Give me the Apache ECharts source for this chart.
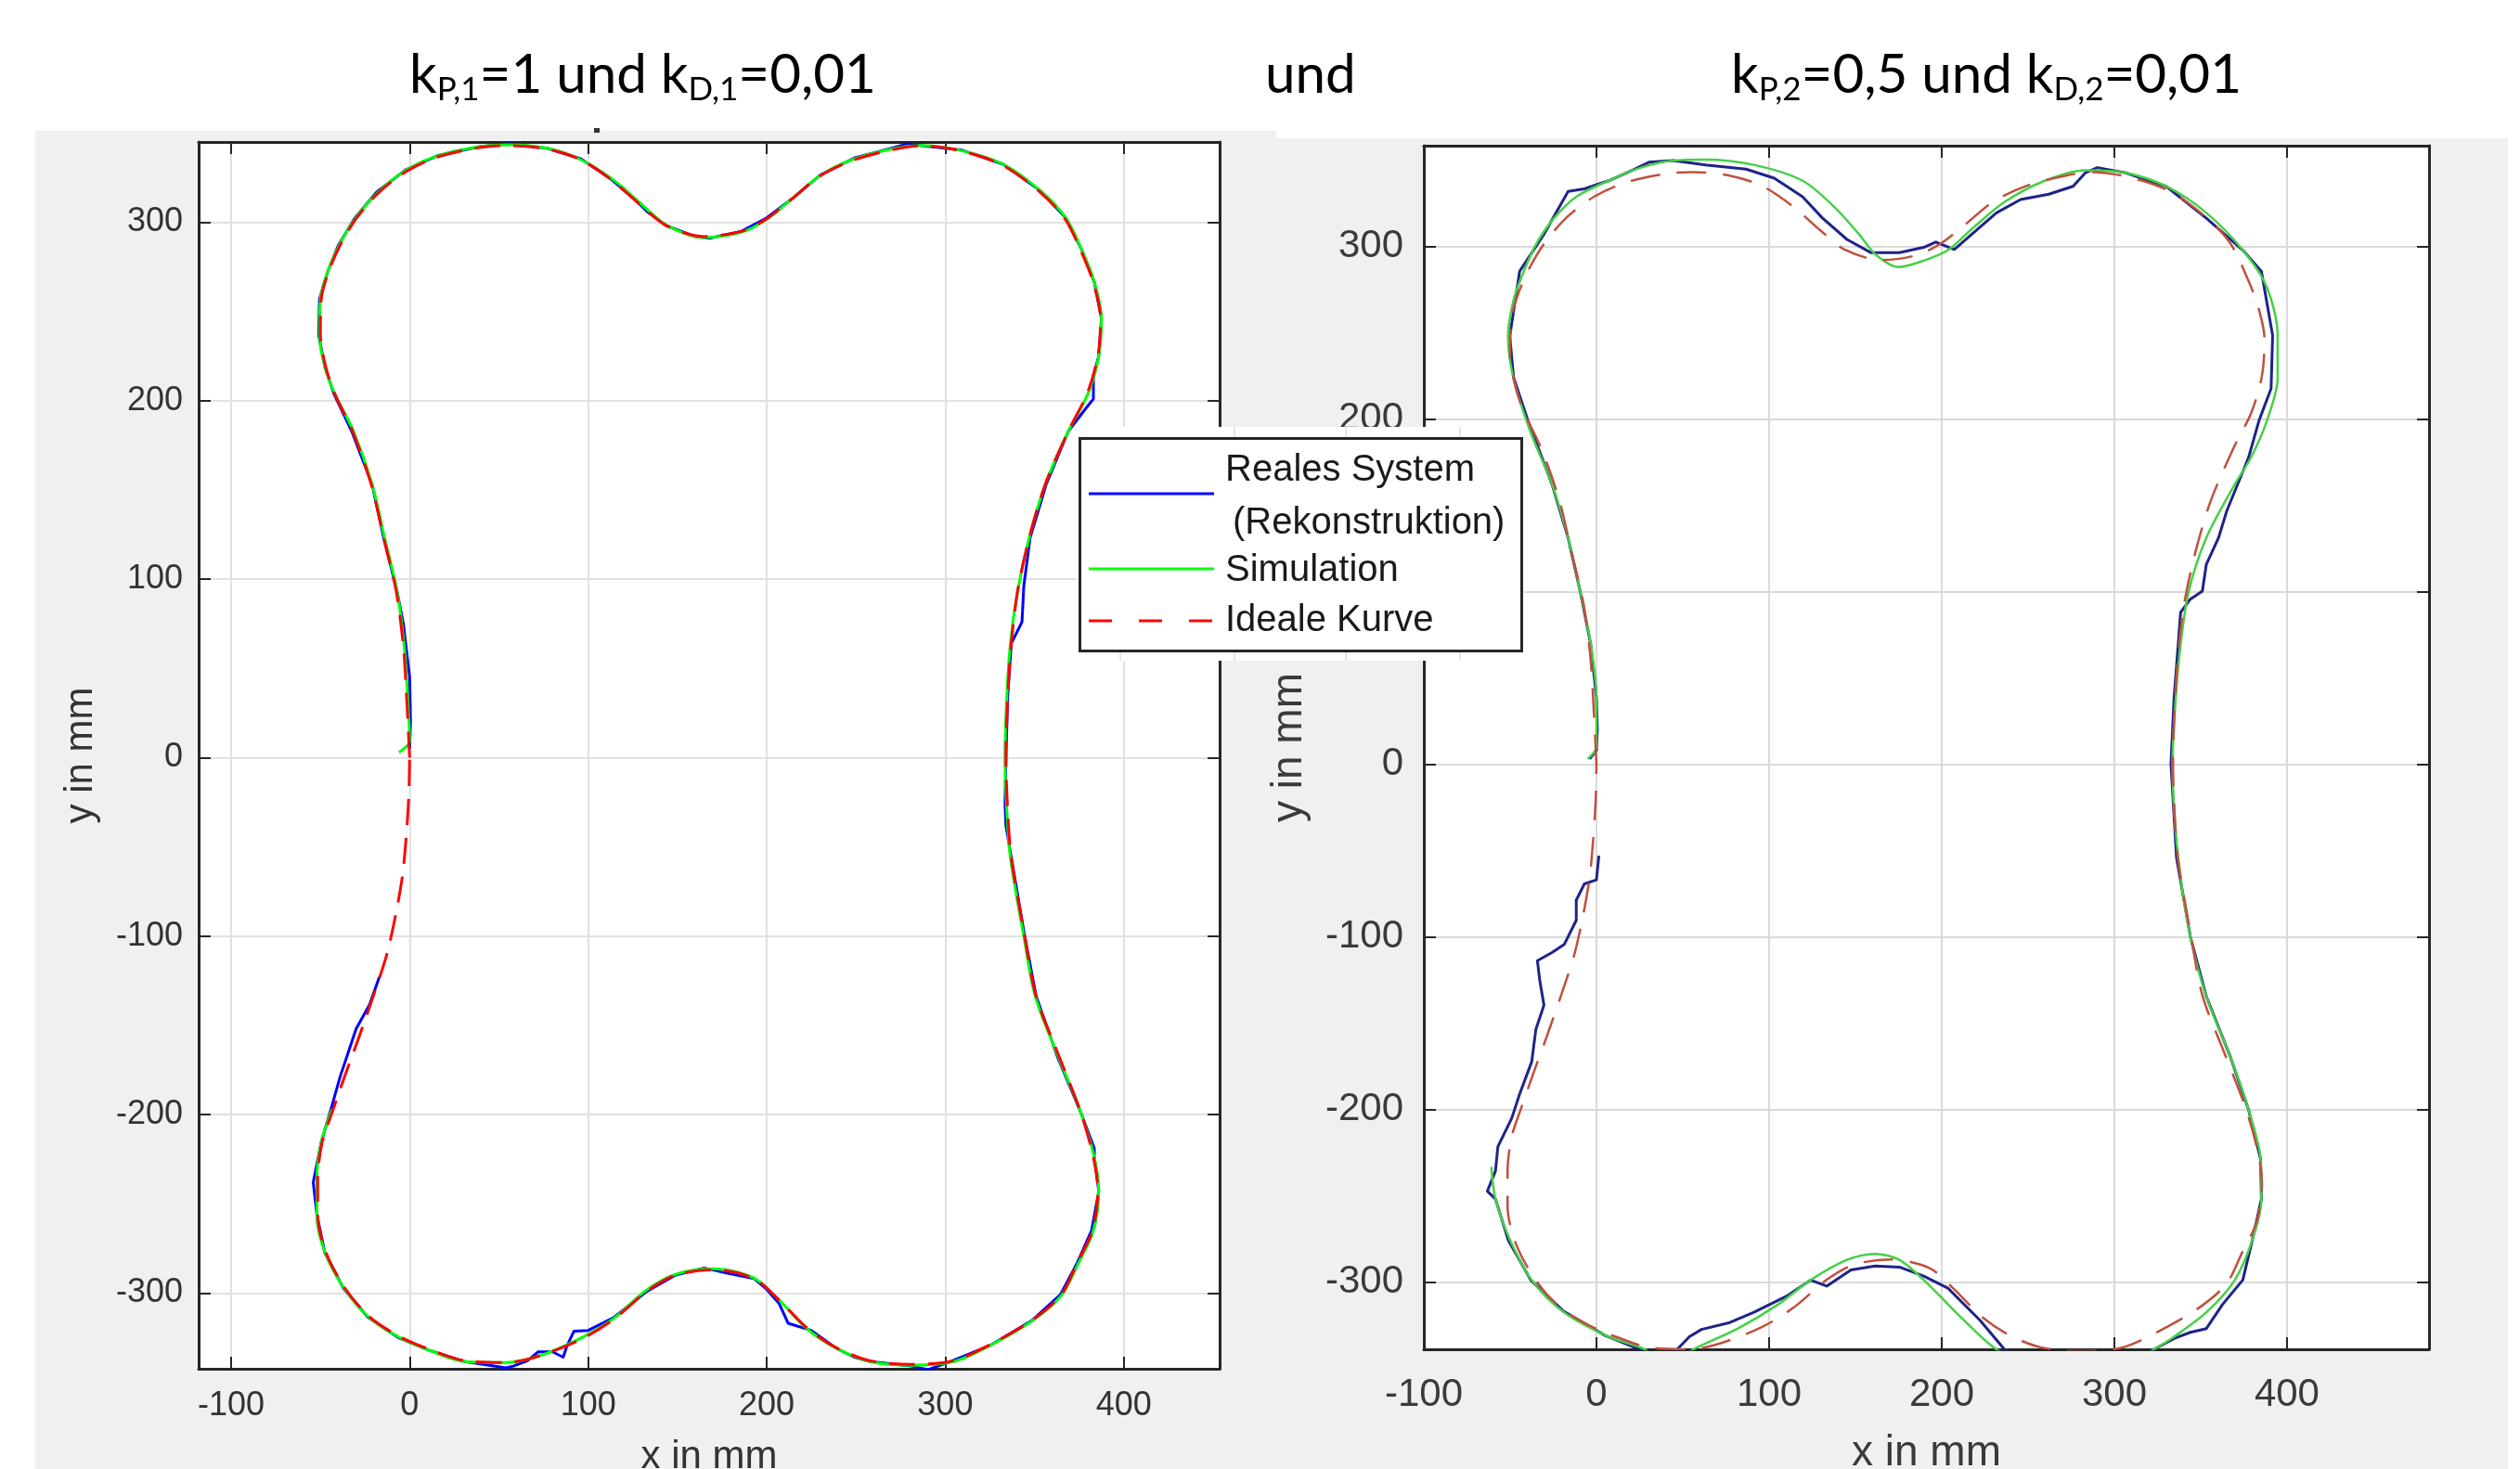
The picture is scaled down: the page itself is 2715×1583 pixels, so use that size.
<!DOCTYPE html>
<html>
<head>
<meta charset="utf-8">
<title>Knochenkontur – Regler-Vergleich</title>
<script src="https://cdn.jsdelivr.net/npm/echarts@6/dist/echarts.min.js"></script>
<style>
  html, body { margin: 0; padding: 0; background: #ffffff; overflow: hidden; }
  #chart { width: 2715px; height: 1583px; }
</style>
</head>
<body>
<div id="chart"></div>
<script>
// ---------------------------------------------------------------
// Contour data in mm, listed in driving order (clockwise from the origin)
// ---------------------------------------------------------------

// Ideal bone contour (reference path, identical in both experiments)
const idealPath = [
  [0,0],[-1.5,30],[-3.5,62],[-7.5,93],[-14.5,123],[-21.5,153],[-32,183],[-42,204],[-47,219],[-50,237],
  [-49.5,257],[-45.5,272],[-39,287],[-30,302],[-17,317],[-1,329],[17,337],[40,342],[56,343],[77,341],
  [96,335],[114,323],[130,309],[144,298],[165,292],[186,295],[200,302],[214,313],[230,326],[249,335],
  [272,341],[286,343],[309,340],[332,332],[353,317],[367,302],[376,284],[383,266],[387,246],[385.5,225],
  [379.5,204],[369,183],[356,153],[347,123],[340.5,93],[337,64],[335,34],[334,0],[335,-30],[337,-56],
  [344.5,-100],[351,-134],[364,-168],[376,-199],[383,-224],[385.5,-243],[382.5,-265],[374,-283],[365,-301],[349,-315],
  [325,-329],[304.5,-338],[281,-340],[258,-338],[239.5,-331],[223,-320],[207,-304],[193,-292],[170,-287],[149,-290],
  [133,-299],[114,-315],[96,-326],[72,-335.5],[54,-339],[31,-338],[12,-332],[-6.5,-324],[-23,-313],[-36.5,-297],
  [-47,-277],[-51.5,-256],[-51.5,-236],[-49,-215.5],[-43.5,-199],[-36.5,-179],[-28.5,-157],[-20.5,-134],[-13,-111],[-8,-89],
  [-4,-66],[-2,-45],[-0.5,-22],[0,0]
];

// Experiment 1 (kP,1 = 1, kD,1 = 0,01): simulated trajectory
const simPath1 = [
  [-6,3],[0,9],[-1,32],[-3,62],[-7,93],[-14,123],[-21,153],[-31.5,183],[-42,204],[-47.5,219],
  [-50.5,237],[-50,257],[-46,272],[-39.5,287],[-30.5,302],[-17.5,317],[-1.5,329.5],[16.5,337.5],[40,342.5],[56,343.5],
  [77,341.5],[96,335],[114.5,323.5],[130.5,309.5],[144.5,298],[165,291.5],[186,294.5],[200.5,302],[214.5,313.5],[230.5,326.5],
  [249,335.5],[272,341.5],[286,343],[309.5,340],[332.5,332.5],[353.5,317.5],[367.5,302.5],[376.5,284.5],[383.5,266.5],[387.5,246],
  [386,225],[380,204],[369,183],[356,153],[347,123],[340.5,93],[336.5,64],[334.5,34],[333.5,0],[334.5,-30],
  [336.5,-56],[344,-100],[350.5,-134],[363.5,-168],[376,-199],[383.5,-224],[386,-243],[383,-265],[374.5,-283.5],[365,-301.5],
  [349,-315.5],[325,-329.5],[304.5,-338.5],[281,-340.5],[258,-338.5],[239,-331],[222.5,-320],[206.5,-303.5],[192.5,-291.5],[170,-286.5],
  [149,-289.5],[132.5,-298.5],[114,-314.5],[95.5,-325.5],[72,-335.5],[54,-339],[31,-338.5],[12,-332.5],[-6.5,-324.5],[-23,-313.5],
  [-37,-297],[-47.5,-277],[-52,-256],[-52,-236],[-49.5,-215.5],[-43.5,-197]
];

// Experiment 1: reconstructed path of the real system
const realPath1 = [
  [0,5],[0.5,20],[0,45],[-2,62],[-3.5,75],[-7,93],[-14.5,123],[-21,153],[-32.5,183],[-42.5,204],
  [-47.5,219],[-51,237],[-50.5,257],[-46,272],[-40,287],[-31,302],[-18.5,317],[-2,329.5],[16,337.5],[40,342.5],
  [56,344],[77,341.5],[96,335.5],[113,324],[127,312],[133,306],[144,298],[160,292],[168,291],[186,295],
  [200,302.5],[214,313],[230,326.5],[249,336],[268,341],[279,344],[286,343],[309,340.5],[332.5,332.5],[353.5,317.5],
  [367.5,302.5],[376.5,284.5],[383.5,266.5],[387.5,246],[386,225],[383,214],[383,201],[379,196],[369,183],[356.5,153],
  [347.5,123],[344,96],[343,76],[337,64],[335,34],[334,0],[333.5,-26],[334,-38],[337,-56],[344.5,-100],
  [351,-134],[363,-168],[376,-199],[383.5,-219],[383.5,-224],[386,-243],[382,-265],[374,-283],[364.5,-301],[348.5,-315.5],
  [325,-329.5],[304,-338],[290.5,-343],[281,-341],[258,-338.5],[249,-336],[239,-331],[225,-321],[212,-317],[207,-306],
  [200,-298],[193,-292],[178,-289],[165,-286],[149,-290],[133,-299],[114,-314],[100,-321],[92,-321.5],[88,-330],
  [86,-336],[80,-333],[72,-333],[66,-338],[58,-341],[54,-342],[31,-338.5],[12,-332.5],[-6.5,-325],[-23.5,-313.5],
  [-37,-297.5],[-47.5,-277.5],[-52,-256],[-54,-238],[-49.5,-215.5],[-43.5,-195],[-39,-179],[-30,-152],[-22.5,-138.5],[-17,-123]
];

// Experiment 2 (kP,2 = 0,5, kD,2 = 0,01): simulated trajectory
const simPath2 = [
  [-5,3],[0,10],[0,20],[0,38.5],[-3.3,69.5],[-9.4,100],[-16.4,131],[-25.7,162],[-38.4,193],[-48.2,224],
  [-51.2,248],[-47.7,270],[-42.1,285.5],[-35.1,301],[-24.8,316],[-11.7,328.7],[7,338],[25.7,345.6],[44.5,349.7],[63.2,350.3],
  [91.2,347.2],[119.4,338],[138.1,322.5],[152.1,307],[162,295],[175,288],[189.6,291.7],[203.6,297.8],[217.6,310.2],[236.3,325.6],
  [259.7,338],[283.2,344.1],[306.6,342.6],[330,334.8],[353.3,319.4],[374.4,297.8],[388.4,276.2],[394.6,248.4],[394.6,223.8],[388.4,199],
  [379.1,177.5],[369.7,162],[353.3,131.2],[343.1,100.3],[338.4,69.5],[335.6,38.5],[333.7,0],[337,-54],[344,-99.8],[353.4,-135],
  [367.4,-170],[377.7,-200],[384.7,-228.7],[385.2,-252],[380,-275.5],[369.7,-299],[353.3,-317.6],[334.6,-331.7],[323,-339],[310,-346],
  [290,-352],[270,-352],[250,-346],[231.7,-339],[213,-322.3],[189.6,-298.9],[175.5,-287.2],[161.4,-283.7],[145.1,-287.2],[124,-298.9],
  [105.3,-313],[81.9,-327],[56.1,-339],[45,-346],[35,-345],[28,-339],[7,-331.7],[-18.7,-317.6],[-37.5,-298.9],[-50.1,-275.5],
  [-58.5,-252],[-60.9,-233.3]
];

// Experiment 2: reconstructed path of the real system
const realPath2 = [
  [-4,3],[0,8],[0.5,20],[0,38.5],[-3.3,69.5],[-9.4,100],[-16.4,131],[-25.7,162],[-39.7,199],[-48,224],
  [-50.2,248],[-44.5,285.5],[-30.4,307],[-23.4,319.4],[-16.4,331.8],[-7,333.3],[7,338],[21,344.1],[30.4,348.7],[44.5,349.7],
  [63.2,347.2],[86.6,344.7],[103,339.5],[119.4,328.7],[131,316.3],[145.1,304],[159.1,296.3],[175.5,296.3],[189.6,299.4],[196.6,302.5],
  [207.3,298.2],[217.6,307.1],[231.7,319.4],[245.7,327.1],[262.1,330.2],[276.1,334.8],[283.2,342.6],[290.2,345.6],[306.6,342.6],[330,334.8],
  [353.3,316.3],[374.4,297.8],[385.2,285.5],[391.7,248.4],[390.8,217.6],[383.8,199],[377.7,177.5],[365.1,146.6],[360.4,131.2],[353.3,115.8],
  [351,100.3],[344,95.6],[338.4,88],[337,69.5],[334.6,38.5],[332.8,0],[336,-54],[344,-99.8],[353.4,-135],[367.4,-170],
  [377.7,-200],[384.7,-228.7],[385.2,-252],[380,-275.5],[374.4,-298.9],[362.7,-313],[353.3,-327],[344,-329.2],[334.6,-332.8],[323,-339],
  [305,-348],[280,-352],[255,-348],[236.3,-339],[222.3,-322.3],[203.6,-303.6],[189.6,-296.6],[175.5,-291.4],[161.4,-290.7],[147.4,-293],
  [133.4,-302.4],[124,-298.9],[110,-308.3],[91.2,-317.6],[77.2,-323.5],[60.8,-327.5],[53.8,-331.7],[46.8,-339],[40,-346],[30,-344],
  [25,-339],[5,-331],[-19,-317],[-38,-299],[-51,-276],[-58.5,-252],[-63.2,-247.4],[-58.5,-235.7],[-57.1,-221.6],[-49.1,-205.2],
  [-44.5,-191.2],[-37.5,-172.4],[-35.1,-153.7],[-30.4,-139.6],[-32.8,-125.6],[-34.2,-113.9],[-25.8,-109.2],[-18.7,-104.5],[-11.7,-90.5],[-11.7,-78.8],
  [-7,-69.4],[0,-67],[1.4,-53]
];

// Axis limits (mm) and tick spacing
const xLimits1 = [-118.2, 453.7];
const yLimits1 = [-342.5, 345];
const xLimits2 = [-100, 482.3];
const yLimits2 = [-339, 358.3];
const tickStep = 100;

// Text
const seriesNames = ['Reales System', 'Simulation', 'Ideale Kurve'];
const legendLabels = ['Reales System', '(Rekonstruktion)', 'Simulation', 'Ideale Kurve'];
const axisNames = { x: 'x in mm', y: 'y in mm' };
const title1Parts = [['k', 0], ['P,1', 1], ['=1 und k', 0], ['D,1', 1], ['=0,01', 0]];
const title2Parts = [['k', 0], ['P,2', 1], ['=0,5 und k', 0], ['D,2', 1], ['=0,01', 0]];
const middleWord = 'und';

// ---------------------------------------------------------------
const AXIS_COLOR = '#262626';
const TICK_FONT = 'Liberation Sans';

function tickLabel(v) {
  return Math.abs(v % tickStep) < 1e-6 ? String(Math.round(v)) : '';
}

function mainAxis(opts) {
  return {
    type: 'value',
    min: opts.lim[0], max: opts.lim[1],
    minInterval: tickStep, maxInterval: tickStep,
    gridIndex: opts.grid,
    position: opts.pos,
    axisLine: { show: true, onZero: false, lineStyle: { color: AXIS_COLOR, width: 3 } },
    axisTick: { show: true, inside: true, length: 13, interval: 0, lineStyle: { color: AXIS_COLOR, width: 2 } },
    axisLabel: {
      show: true, interval: 0, margin: opts.margin, formatter: tickLabel,
      fontFamily: TICK_FONT, fontSize: opts.font, color: opts.labelColor
    },
    splitLine: { show: true, lineStyle: { color: opts.gridColor, width: 2 } },
    name: opts.name, nameLocation: 'middle', nameGap: opts.nameGap,
    nameTextStyle: { fontFamily: TICK_FONT, fontSize: opts.nameFont, color: opts.labelColor }
  };
}

function boxAxis(lim, grid, pos) {
  return {
    type: 'value', min: lim[0], max: lim[1],
    minInterval: tickStep, maxInterval: tickStep,
    gridIndex: grid, position: pos,
    axisLine: { show: true, onZero: false, lineStyle: { color: AXIS_COLOR, width: 3 } },
    axisTick: { show: true, inside: true, length: 13, interval: 0, lineStyle: { color: AXIS_COLOR, width: 2 } },
    axisLabel: { show: false },
    splitLine: { show: false }
  };
}

function pathSeries(name, data, idx, color, width, dash, z, smooth) {
  return {
    type: 'line', name: name, data: data,
    xAxisIndex: idx, yAxisIndex: idx,
    showSymbol: false, symbol: 'none', clip: true, silent: true,
    animation: false, smooth: smooth || false, z: z,
    lineStyle: { color: color, width: width, type: dash || 'solid', cap: 'butt', join: 'round' }
  };
}

// Title built from measured pieces so the subscripts sit on their own baseline
const measureCtx = document.createElement('canvas').getContext('2d');
function pieceMetrics(text, size, family) {
  measureCtx.font = size + 'px ' + family;
  measureCtx.textBaseline = 'alphabetic';
  const a = measureCtx.measureText(text);
  measureCtx.textBaseline = 'middle';
  const b = measureCtx.measureText(text);
  let off = size * 0.35;
  if (a.fontBoundingBoxAscent !== undefined && b.fontBoundingBoxAscent !== undefined) {
    off = a.fontBoundingBoxAscent - b.fontBoundingBoxAscent;
  }
  return { w: a.width, off: off };
}
function titleWidth(parts, size, family) {
  let w = 0;
  parts.forEach(p => { w += pieceMetrics(p[0], p[1] ? size * 0.6 : size, family).w; });
  return w;
}
function titleElements(parts, x0, baseline, size, family) {
  const els = [];
  let x = x0;
  parts.forEach(p => {
    const s = p[1] ? size * 0.6 : size;
    const m = pieceMetrics(p[0], s, family);
    const bl = p[1] ? baseline + size * 0.13 : baseline;
    els.push({
      type: 'text', x: x, y: bl - m.off, z: 50, silent: true,
      style: { text: p[0], fontFamily: family, fontSize: s, fill: '#000000', align: 'left', verticalAlign: 'middle' }
    });
    x += m.w;
  });
  return els;
}

const TITLE_FONT = 'Lato';
const titleSize = 60 * 503 / titleWidth(title1Parts, 60, TITLE_FONT);

function legendText(text, x, y) {
  return { type: 'text', z: 102, silent: true, x: x, y: y,
           style: { text: text, fontFamily: TICK_FONT, fontSize: 40, fill: '#1a1a1a', align: 'left', verticalAlign: 'middle' } };
}
function faintTick(x, y1, y2) {
  return { type: 'line', z: 101, silent: true, shape: { x1: x, y1: y1, x2: x, y2: y2 }, style: { stroke: '#e6e6e6', lineWidth: 2 } };
}

const graphics = [
  // figure panels
  { type: 'rect', z: -100, silent: true, shape: { x: 38, y: 141, width: 1337, height: 1442 }, style: { fill: '#f0f0f0' } },
  { type: 'rect', z: -100, silent: true, shape: { x: 1375, y: 149, width: 1327, height: 1434 }, style: { fill: '#f0f0f0' } },
  { type: 'rect', z: -99, silent: true, shape: { x: 640, y: 138, width: 6, height: 5 }, style: { fill: '#333333' } },
  // legend backing and frame
  { type: 'rect', z: 100, silent: true, shape: { x: 1160, y: 460, width: 482, height: 252 }, style: { fill: '#ffffff' } },
  faintTick(1330, 460, 471), faintTick(1450, 460, 471), faintTick(1573, 460, 471),
  faintTick(1207, 703, 712), faintTick(1330, 703, 712), faintTick(1450, 703, 712), faintTick(1573, 703, 712),
  { type: 'rect', z: 102, silent: true, shape: { x: 1163.5, y: 472.5, width: 476, height: 229 }, style: { fill: 'none', stroke: AXIS_COLOR, lineWidth: 3 } },
  { type: 'line', z: 102, silent: true, shape: { x1: 1173, y1: 532, x2: 1308, y2: 532 }, style: { stroke: '#0000ff', lineWidth: 3 } },
  { type: 'line', z: 102, silent: true, shape: { x1: 1173, y1: 613, x2: 1308, y2: 613 }, style: { stroke: '#00ff00', lineWidth: 3 } },
  { type: 'line', z: 102, silent: true, shape: { x1: 1173, y1: 669, x2: 1308, y2: 669 }, style: { stroke: '#ff0000', lineWidth: 3, lineDash: [25, 29] } },
  legendText(legendLabels[0], 1320, 507),
  legendText(legendLabels[1], 1328, 564),
  legendText(legendLabels[2], 1320, 615),
  legendText(legendLabels[3], 1320, 669)
]
  .concat(titleElements(title1Parts, 441, 100, titleSize, TITLE_FONT))
  .concat(titleElements([[middleWord, 0]], 1363, 100, titleSize, TITLE_FONT))
  .concat(titleElements(title2Parts, 1865, 100, titleSize, TITLE_FONT));

const chart = echarts.init(document.getElementById('chart'), null, { renderer: 'canvas' });

chart.setOption({
  backgroundColor: 'transparent',
  animation: false,
  grid: [
    { left: 214, top: 153, width: 1100, height: 1322, show: true, backgroundColor: '#ffffff', borderWidth: 0, containLabel: false, outerBoundsMode: 'none' },
    { left: 1534, top: 157, width: 1083, height: 1297, show: true, backgroundColor: '#ffffff', borderWidth: 0, containLabel: false, outerBoundsMode: 'none' }
  ],
  xAxis: [
    mainAxis({ lim: xLimits1, grid: 0, pos: 'bottom', margin: 22, font: 36, labelColor: '#333333', gridColor: '#e1e1e1',
               name: axisNames.x, nameGap: 74, nameFont: 42 }),
    boxAxis(xLimits1, 0, 'top'),
    mainAxis({ lim: xLimits2, grid: 1, pos: 'bottom', margin: 28, font: 42, labelColor: '#3a3a3a', gridColor: '#dadada',
               name: axisNames.x, nameGap: 89, nameFont: 46 }),
    boxAxis(xLimits2, 1, 'top')
  ],
  yAxis: [
    mainAxis({ lim: yLimits1, grid: 0, pos: 'left', margin: 17, font: 36, labelColor: '#333333', gridColor: '#e1e1e1',
               name: axisNames.y, nameGap: 106, nameFont: 42 }),
    boxAxis(yLimits1, 0, 'right'),
    mainAxis({ lim: yLimits2, grid: 1, pos: 'left', margin: 22, font: 42, labelColor: '#3a3a3a', gridColor: '#dadada',
               name: axisNames.y, nameGap: 122, nameFont: 46 }),
    boxAxis(yLimits2, 1, 'right')
  ],
  series: [
    pathSeries(seriesNames[0], realPath1, 0, '#0000ff', 3, null, 3, false),
    pathSeries(seriesNames[1], simPath1, 0, '#00ff00', 3, null, 4, 0.3),
    pathSeries(seriesNames[2], idealPath, 0, '#ff0000', 3, [28, 14], 5, 0.3),
    pathSeries(seriesNames[0], realPath2, 2, '#1f2388', 3, null, 3, false),
    pathSeries(seriesNames[1], simPath2, 2, '#45d045', 2.5, null, 4, 0.3),
    pathSeries(seriesNames[2], idealPath, 2, '#c0503e', 2.5, [32, 18], 5, 0.3)
  ],
  graphic: { elements: graphics }
});
</script>
</body>
</html>
